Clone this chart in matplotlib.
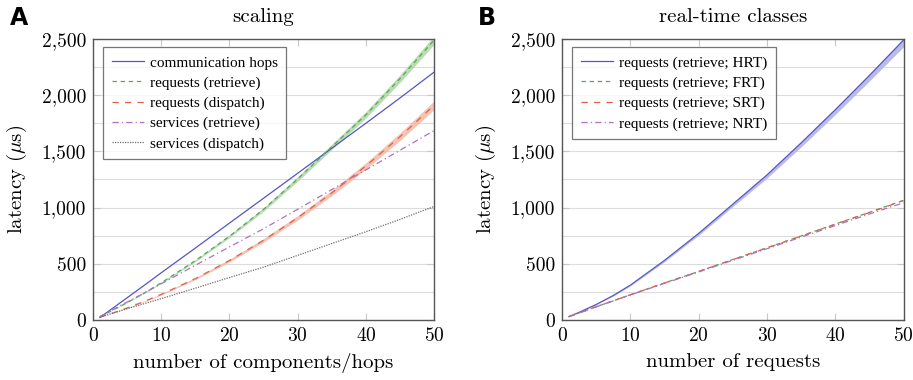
import matplotlib
matplotlib.use('Agg')
import matplotlib.pyplot as plt
from matplotlib.ticker import FuncFormatter, MultipleLocator

plt.rcParams['font.family'] = ['cmr10', 'DejaVu Serif']
plt.rcParams['axes.formatter.use_mathtext'] = True
plt.rcParams['mathtext.fontset'] = 'cm'

# x positions (number of components / requests)
xs = [1, 2.5, 5, 7.5, 10, 15, 20, 25, 30, 35, 40, 45, 50]

# panel A: scaling
hops = [22, 88, 198, 308, 420, 640, 862, 1083, 1305, 1528, 1750, 1975, 2205]
req_retrieve = [30, 75, 155, 240, 331, 528, 745, 984, 1255, 1540, 1825, 2147, 2490]
req_retrieve_lo = [30, 74, 152, 236, 325, 519, 733, 968, 1235, 1516, 1797, 2114, 2452]
req_retrieve_hi = [30, 77, 158, 245, 337, 537, 757, 1000, 1275, 1564, 1853, 2180, 2528]
req_dispatch = [25, 54, 107, 165, 228, 368, 529, 709, 909, 1130, 1370, 1630, 1910]
req_dispatch_lo = [25, 53, 104, 161, 222, 359, 517, 693, 889, 1106, 1342, 1597, 1872]
req_dispatch_hi = [25, 55, 110, 169, 234, 377, 541, 725, 929, 1154, 1398, 1663, 1948]
srv_retrieve = [30, 79, 160, 240, 322, 487, 650, 812, 985, 1160, 1335, 1510, 1685]
srv_dispatch = [25, 53, 100, 145, 190, 283, 378, 470, 575, 680, 785, 895, 1010]

# panel B: real-time classes
hrt = [30, 68, 138, 218, 310, 530, 770, 1030, 1290, 1575, 1870, 2175, 2490]
hrt_lo = [30, 67, 135, 214, 303, 519, 754, 1009, 1262, 1540, 1828, 2126, 2430]
hrt_hi = [30, 69, 139, 221, 312, 533, 774, 1036, 1297, 1584, 1880, 2186, 2502]
frt = [30, 62, 118, 171, 225, 330, 432, 538, 643, 748, 853, 958, 1065]
srt = [30, 62, 118, 171, 224, 329, 431, 537, 641, 746, 851, 956, 1062]
nrt = [30, 62, 117, 170, 222, 326, 427, 531, 634, 737, 840, 943, 1043]

BLUE = '#5555c8'
GREEN = '#5aa55a'
RED = '#e0604a'
PURPLE = '#b070c0'
GRAY = '#707070'


def style_axes(ax, xlabel, title):
    ax.set_xlim(0, 50)
    ax.set_ylim(0, 2500)
    ax.xaxis.set_major_locator(MultipleLocator(10))
    ax.yaxis.set_major_locator(MultipleLocator(500))
    ax.yaxis.set_minor_locator(MultipleLocator(250))
    ax.yaxis.set_major_formatter(FuncFormatter(lambda v, p: f'{v:,.0f}'))
    ax.grid(True, axis='y', which='both', color='#dcdcdc', lw=0.8)
    ax.set_axisbelow(True)
    ax.tick_params(which='both', direction='in', top=True, right=True,
                   color='#c8c8c8', labelsize=14, pad=5)
    ax.tick_params(which='major', length=5)
    ax.tick_params(which='minor', length=0)
    for s in ax.spines.values():
        s.set_color('#555555')
        s.set_linewidth(1.0)
    ax.set_xlabel(xlabel, fontsize=15, labelpad=6)
    ax.set_ylabel(r'latency ($\mu$s)', fontsize=15, labelpad=9)
    ax.set_title(title, fontsize=15, pad=12)


fig = plt.figure(figsize=(9.13, 3.8), dpi=100)
ax1 = fig.add_axes([0.1019, 0.1579, 0.3735, 0.7395])
ax2 = fig.add_axes([0.6156, 0.1579, 0.3740, 0.7395])

# panel A
ax1.fill_between(xs, req_retrieve_lo, req_retrieve_hi, color='#a8d4a0', alpha=0.8, lw=0)
ax1.fill_between(xs, req_dispatch_lo, req_dispatch_hi, color='#f2b4a0', alpha=0.8, lw=0)
ax1.plot(xs, hops, color=BLUE, lw=0.9, label='communication hops')
ax1.plot(xs, req_retrieve, color=GREEN, lw=0.9, dashes=(3.5, 3), label='requests (retrieve)')
ax1.plot(xs, req_dispatch, color=RED, lw=0.9, dashes=(5, 5), label='requests (dispatch)')
ax1.plot(xs, srv_retrieve, color=PURPLE, lw=0.9, dashes=(5, 2.5, 1, 2.5), label='services (retrieve)')
ax1.plot(xs, srv_dispatch, color=GRAY, lw=0.9, dashes=(1, 1), label='services (dispatch)')
style_axes(ax1, 'number of components/hops', 'scaling')

# panel B
ax2.fill_between(xs, hrt_lo, hrt_hi, color='#b4b4e4', alpha=0.9, lw=0)
ax2.plot(xs, hrt, color=BLUE, lw=0.9, label='requests (retrieve; HRT)')
ax2.plot(xs, frt, color=GREEN, lw=0.9, dashes=(3.5, 3), label='requests (retrieve; FRT)')
ax2.plot(xs, srt, color=RED, lw=0.9, dashes=(5, 5), label='requests (retrieve; SRT)')
ax2.plot(xs, nrt, color=PURPLE, lw=0.9, dashes=(5, 2.5, 1, 2.5), label='requests (retrieve; NRT)')
style_axes(ax2, 'number of requests', 'real-time classes')

for ax in (ax1, ax2):
    leg = ax.legend(loc='upper left', bbox_to_anchor=(0.03, 0.97),
                    prop={'family': 'Liberation Serif', 'size': 11},
                    frameon=True, fancybox=False, edgecolor='#555555',
                    handlelength=2.1, handletextpad=0.4, labelspacing=0.42,
                    borderpad=0.55, borderaxespad=0.0)
    leg.get_frame().set_linewidth(0.9)

fig.text(0.011, 0.935, 'A', fontsize=17, fontweight='bold', family='DejaVu Sans')
fig.text(0.523, 0.935, 'B', fontsize=17, fontweight='bold', family='DejaVu Sans')

fig.savefig('out.png', dpi=100)
